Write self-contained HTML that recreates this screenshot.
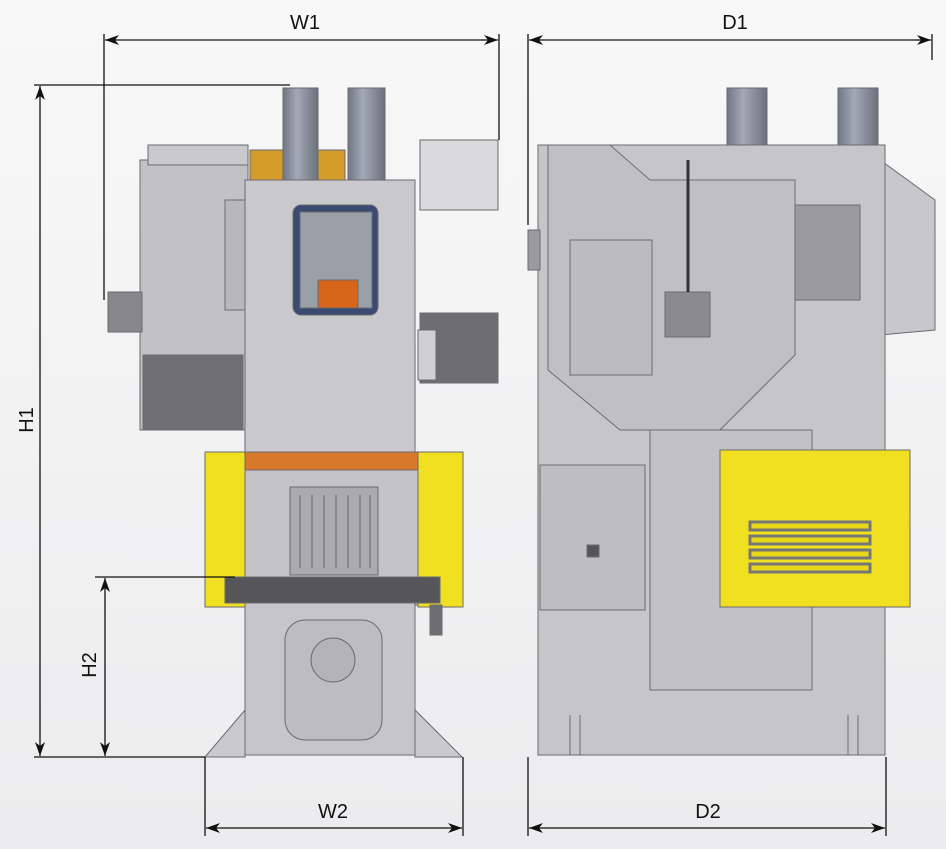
<!DOCTYPE html>
<html><head><meta charset="utf-8"><style>
html,body{margin:0;padding:0;background:#f4f4f5;}
svg{display:block;}
text{font-family:"Liberation Sans",sans-serif;font-size:20px;fill:#111;}
</style></head><body>
<svg width="946" height="849" viewBox="0 0 946 849" xmlns="http://www.w3.org/2000/svg">
<defs>
<linearGradient id="bg" x1="0" y1="0" x2="0" y2="1"><stop offset="0" stop-color="#f8f8f8"/><stop offset="1" stop-color="#ececee"/></linearGradient>
<linearGradient id="cyl" x1="0" y1="0" x2="1" y2="0"><stop offset="0" stop-color="#6f7684"/><stop offset="0.4" stop-color="#a3a9b5"/><stop offset="1" stop-color="#6a707c"/></linearGradient>
<marker id="a" viewBox="0 0 14 10" refX="14" refY="5" markerWidth="14" markerHeight="10" orient="auto-start-reverse" markerUnits="userSpaceOnUse"><path d="M0,0 L14,5 L0,10 L4,5 Z" fill="#111"/></marker>
</defs>
<rect width="946" height="849" fill="url(#bg)"/>

<!-- LEFT MACHINE -->
<g stroke="#6a6a70" stroke-width="1">
<rect x="140" y="160" width="108" height="270" fill="#c2c2c6"/>
<rect x="148" y="145" width="100" height="20" fill="#cacace"/>
<rect x="225" y="200" width="22" height="110" fill="#b8b8bc"/>
<rect x="143" y="355" width="100" height="75" fill="#6f6f73"/>
<rect x="108" y="292" width="34" height="40" fill="#88888c"/>
<rect x="250" y="150" width="95" height="32" fill="#d49a2a"/>
<rect x="283" y="88" width="35" height="92" fill="url(#cyl)"/>
<rect x="348" y="88" width="37" height="92" fill="url(#cyl)"/>
<rect x="420" y="140" width="78" height="70" fill="#dadadc"/>
<rect x="245" y="180" width="170" height="275" fill="#c9c9cd"/>
<rect x="293" y="205" width="85" height="110" rx="8" fill="#3a4a70"/>
<rect x="300" y="212" width="72" height="96" fill="#9aa0a8"/>
<rect x="318" y="280" width="40" height="28" fill="#d8651a"/>
<rect x="420" y="313" width="78" height="70" fill="#6e6e72"/>
<rect x="418" y="330" width="18" height="50" fill="#d0d0d3"/>
<rect x="245" y="455" width="173" height="150" fill="#c4c4c8"/>
<rect x="245" y="452" width="173" height="18" fill="#d8782a"/>
<rect x="290" y="487" width="88" height="88" fill="#aaaab0"/>
<rect x="205" y="452" width="40" height="155" fill="#f0e020"/>
<rect x="418" y="452" width="45" height="155" fill="#f0e020"/>
<rect x="225" y="577" width="215" height="26" fill="#56565a"/>
<path d="M205,757 L245,710 L245,757 Z M462,757 L415,710 L415,757 Z" fill="#cacace"/>
<rect x="245" y="603" width="170" height="152" fill="#c6c6ca"/>
<rect x="285" y="620" width="97" height="120" rx="20" fill="#bdbdc1"/>
<circle cx="333" cy="660" r="22" fill="#b4b4b8"/>
<rect x="430" y="605" width="12" height="30" fill="#6e6e72"/>
</g>
<g stroke="#888" stroke-width="2">
<line x1="300" y1="495" x2="300" y2="568"/><line x1="312" y1="495" x2="312" y2="568"/><line x1="324" y1="495" x2="324" y2="568"/><line x1="336" y1="495" x2="336" y2="568"/><line x1="348" y1="495" x2="348" y2="568"/><line x1="360" y1="495" x2="360" y2="568"/><line x1="370" y1="495" x2="370" y2="568"/>
</g>

<!-- RIGHT MACHINE -->
<g stroke="#6a6a70" stroke-width="1">
<path d="M880,160 L935,200 L935,330 L880,335 Z" fill="#c8c8cc"/>
<rect x="727" y="88" width="40" height="92" fill="url(#cyl)"/>
<rect x="838" y="88" width="40" height="92" fill="url(#cyl)"/>
<rect x="538" y="145" width="347" height="610" fill="#c6c6ca"/>
<path d="M548,145 L610,145 L650,180 L795,180 L795,355 L720,430 L620,430 L548,370 Z" fill="#c0c0c4"/>
<rect x="570" y="240" width="82" height="135" fill="#bcbcc0"/>
<rect x="795" y="205" width="65" height="95" fill="#9a9aa0"/>
<rect x="650" y="430" width="162" height="260" fill="#c2c2c6"/>
<rect x="540" y="465" width="105" height="145" fill="#bebec2"/>
<rect x="587" y="545" width="12" height="12" fill="#555"/>
<rect x="665" y="292" width="45" height="45" fill="#8a8a90"/>
<line x1="688" y1="160" x2="688" y2="292" stroke="#333" stroke-width="3"/>
<rect x="528" y="230" width="12" height="40" fill="#9a9aa0"/>
<rect x="720" y="450" width="190" height="157" fill="#f0e020"/>
<line x1="570" y1="715" x2="570" y2="755"/><line x1="580" y1="715" x2="580" y2="755"/>
<line x1="848" y1="715" x2="848" y2="755"/><line x1="858" y1="715" x2="858" y2="755"/>
</g>
<g stroke="#777" stroke-width="3" fill="#e8d818">
<rect x="750" y="522" width="120" height="8"/><rect x="750" y="536" width="120" height="8"/><rect x="750" y="550" width="120" height="8"/><rect x="750" y="564" width="120" height="8"/>
</g>

<!-- DIMENSIONS -->
<g stroke="#111" stroke-width="1.3" fill="none">
<line x1="105" y1="40" x2="498" y2="40" marker-start="url(#a)" marker-end="url(#a)"/>
<line x1="104" y1="34" x2="104" y2="300"/><line x1="499" y1="34" x2="499" y2="140"/>
<line x1="529" y1="40" x2="931" y2="40" marker-start="url(#a)" marker-end="url(#a)"/>
<line x1="528" y1="34" x2="528" y2="225"/><line x1="932" y1="34" x2="932" y2="60"/>
<line x1="40" y1="86" x2="40" y2="756" marker-start="url(#a)" marker-end="url(#a)"/>
<line x1="34" y1="85" x2="290" y2="85"/>
<line x1="105" y1="578" x2="105" y2="756" marker-start="url(#a)" marker-end="url(#a)"/>
<line x1="95" y1="577" x2="235" y2="577"/>
<line x1="34" y1="757" x2="205" y2="757"/>
<line x1="205" y1="757" x2="205" y2="836"/><line x1="463" y1="757" x2="463" y2="836"/>
<line x1="206" y1="828" x2="462" y2="828" marker-start="url(#a)" marker-end="url(#a)"/>
<line x1="528" y1="757" x2="528" y2="836"/><line x1="886" y1="757" x2="886" y2="836"/>
<line x1="529" y1="828" x2="885" y2="828" marker-start="url(#a)" marker-end="url(#a)"/>
</g>
<text x="305" y="29" text-anchor="middle">W1</text>
<text x="735" y="29" text-anchor="middle">D1</text>
<text x="333" y="818" text-anchor="middle">W2</text>
<text x="708" y="818" text-anchor="middle">D2</text>
<text transform="translate(33,420) rotate(-90)" text-anchor="middle">H1</text>
<text transform="translate(96,665) rotate(-90)" text-anchor="middle">H2</text>
</svg>
</body></html>
